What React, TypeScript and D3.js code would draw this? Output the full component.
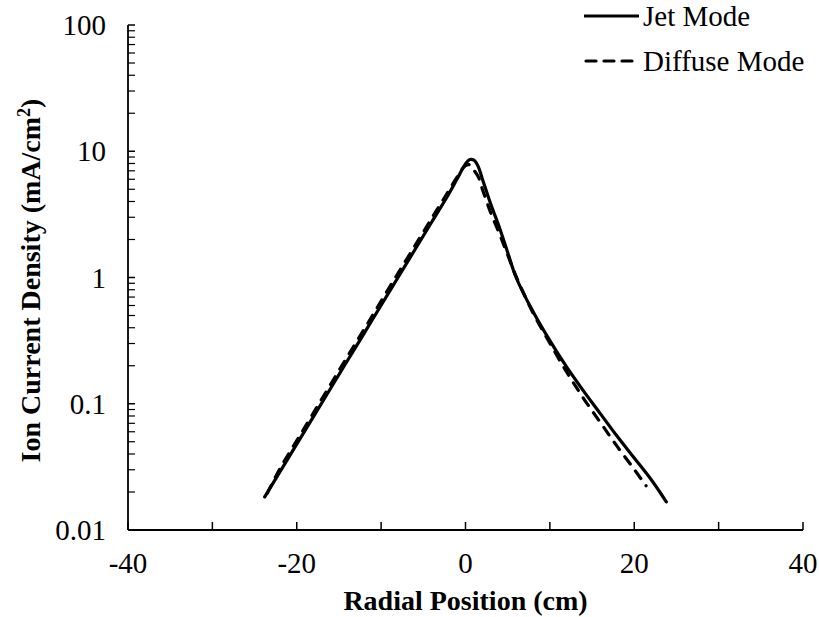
import React from "react";
import * as d3 from "d3";

const jetX = [-23.8,-22,-20,-18,-16,-14,-12,-10,-8,-6,-4,-2,-1,0,0.5,1,1.5,2,3,4,5,6,8,10,12,14,16,18,20,22,23.8];
const jetY = [0.0183,0.0288,0.0479,0.0794,0.132,0.219,0.363,0.603,1.0,1.66,2.75,4.57,6.03,7.94,8.59,8.51,7.59,6.03,3.80,2.51,1.58,1.0,0.537,0.316,0.195,0.126,0.0832,0.0550,0.0372,0.0251,0.0167];
const diffX = [-23.5,-22,-20,-18,-16,-14,-12,-10,-8,-6,-4,-2,-1,0,0.5,1,1.5,2,3,4,5,6,8,10,12,14,16,18,20,21.4];
const diffY = [0.0195,0.0305,0.0510,0.0850,0.142,0.236,0.390,0.650,1.08,1.78,2.95,4.85,6.25,7.70,7.80,7.08,6.31,5.01,3.24,2.24,1.51,1.02,0.525,0.302,0.178,0.110,0.0708,0.0457,0.0302,0.0224];
const xTicks = [-40,-20,0,20,40];
const xMinor = [-30,-10,10,30];
const yTicks = [0.01,0.1,1,10,100];
const yTickLabels = ["0.01","0.1","1","10","100"];
const seriesNames = ["Jet Mode","Diffuse Mode"];

const W = 819, H = 617;
const L = 128, R = 803, T = 25, B = 530;
const ts = { fontFamily: "Liberation Serif" };

export default function App() {
  const x = d3.scaleLinear().domain([-40, 40]).range([L, R]);
  const y = d3.scaleLog().domain([0.01, 100]).range([B, T]);
  const line = d3.line<[number, number]>().x(d => x(d[0])).y(d => y(d[1])).curve(d3.curveCatmullRom.alpha(0.5));
  const jet = jetX.map((v, i) => [v, jetY[i]] as [number, number]);
  const diff = diffX.map((v, i) => [v, diffY[i]] as [number, number]);
  const minor: number[] = [];
  for (let e = -2; e < 2; e++) for (let k = 2; k <= 9; k++) minor.push(k * Math.pow(10, e));
  return (
    <svg width={W} height={H} style={{ position: "absolute", left: 0, top: 0, background: "#fff" }}>
      <rect width={W} height={H} fill="#fff" />
      <line x1={L} x2={L} y1={T} y2={B} stroke="#000" strokeWidth={1.8} />
      <line x1={L} x2={R} y1={B} y2={B} stroke="#000" strokeWidth={1.8} />
      {yTicks.map(t => <line key={"yt" + t} x1={L} x2={L + 7} y1={y(t)} y2={y(t)} stroke="#000" strokeWidth={1.5} />)}
      {minor.map(t => <line key={"ym" + t} x1={L} x2={L + 7} y1={y(t)} y2={y(t)} stroke="#000" strokeWidth={1.2} />)}
      {xTicks.concat(xMinor).map(t => <line key={"xt" + t} x1={x(t)} x2={x(t)} y1={B} y2={B - 8} stroke="#000" strokeWidth={1.5} />)}
      {yTicks.map((t, i) => (
        <text key={"yl" + t} style={ts} x={106} y={y(t)} dy="0.35em" textAnchor="end" fontSize={29}>{yTickLabels[i]}</text>
      ))}
      {xTicks.map(t => (
        <text key={"xl" + t} style={ts} x={x(t)} y={573} textAnchor="middle" fontSize={29}>{t}</text>
      ))}
      <text style={ts} x={(L + R) / 2} y={610} textAnchor="middle" fontSize={28} fontWeight="bold">Radial Position (cm)</text>
      <text style={ts} transform={`translate(40,${(T + B) / 2 + 3}) rotate(-90)`} textAnchor="middle" fontSize={28} fontWeight="bold">
        Ion Current Density (mA/cm<tspan dy={-10} fontSize={18}>2</tspan><tspan dy={10}>)</tspan>
      </text>
      <path d={line(jet) || ""} fill="none" stroke="#000" strokeWidth={3.2} strokeLinecap="round" strokeLinejoin="round" />
      <path d={line(diff) || ""} fill="none" stroke="#000" strokeWidth={3.2} strokeDasharray="9,9" strokeLinecap="round" strokeLinejoin="round" />
      <line x1={584} x2={639} y1={16} y2={16} stroke="#000" strokeWidth={3.2} />
      <text style={ts} x={643} y={26} fontSize={29}>{seriesNames[0]}</text>
      <line x1={586} x2={636} y1={61} y2={61} stroke="#000" strokeWidth={3.2} strokeDasharray="10,8" strokeLinecap="round" />
      <text style={ts} x={643} y={71} fontSize={29}>{seriesNames[1]}</text>
    </svg>
  );
}
